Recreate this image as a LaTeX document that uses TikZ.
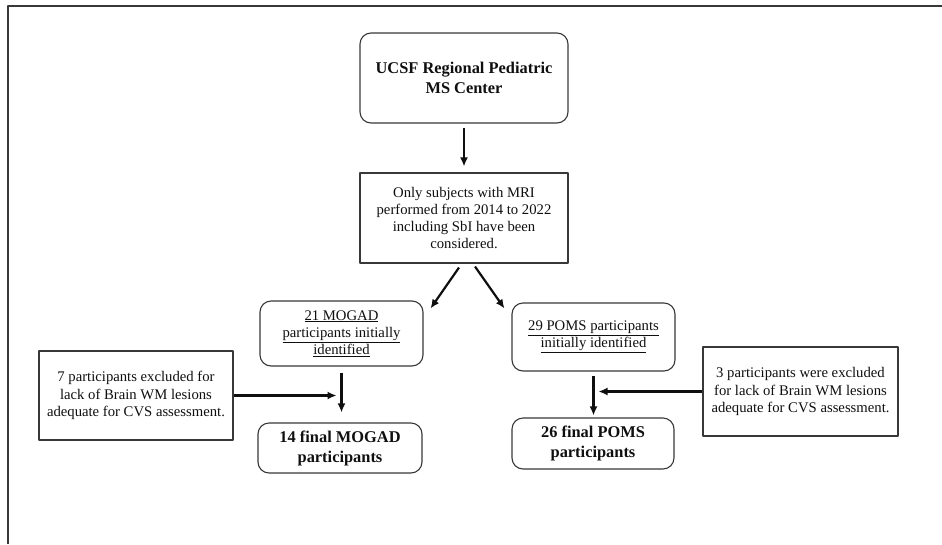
\documentclass[tikz,border=0pt]{standalone}
\usepackage{fontspec}
\setmainfont{Liberation Serif}
\usetikzlibrary{arrows.meta}
\definecolor{ChartInk}{gray}{0.06}
\definecolor{ChartLine}{gray}{0.22}
\tikzset{
    chart/diagram/.style={
        x=1pt, y=-1pt,
        text=ChartInk,
        line join=round
    },
    chart/box/.style={
        draw=ChartLine, line width=1.1pt, align=center, inner sep=0pt,
        font=\fontsize{14.7}{17.3}\selectfont
    },
    chart/rounded/.style={chart/box, rounded corners=11pt},
    chart/bold/.style={font=\fontsize{16.4}{20}\selectfont\bfseries},
    chart/flow/.style={
        draw=ChartInk, line width=2.2pt,
        -{Latex[length=9pt, width=8pt]}
    },
    chart/frame/.style={draw=ChartLine, line width=1.6pt}
}
\begin{document}
\begin{tikzpicture}[chart/diagram]
    \useasboundingbox (0,0) rectangle (942,544);
    \draw[chart/frame] (8,544) -- (8,6) -- (942,6);

    \node[chart/rounded, chart/bold, minimum width=208pt, minimum height=90pt]
        (ucsf) at (464,78) {UCSF Regional Pediatric\\MS Center};
    \node[chart/box, minimum width=208pt, minimum height=90pt]
        (subjects) at (464,218)
        {Only subjects with MRI\\performed from 2014 to 2022\\including SbI have been\\considered.};
    \node[chart/rounded, minimum width=163pt, minimum height=65pt]
        (mogadInit) at (341.5,333.5)
        {\underline{21 MOGAD}\\\underline{participants initially}\\\underline{identified}};
    \node[chart/rounded, minimum width=163pt, minimum height=68pt]
        (pomsInit) at (593.5,337)
        {\underline{29 POMS participants}\\\underline{initially identified}};
    \node[chart/box, minimum width=194pt, minimum height=89pt]
        (mogadExcl) at (136,395.5)
        {7 participants excluded for\\lack of Brain WM lesions\\adequate for CVS assessment.};
    \node[chart/box, minimum width=195pt, minimum height=89pt]
        (pomsExcl) at (800.5,391.5)
        {3 participants were excluded\\for lack of Brain WM lesions\\adequate for CVS assessment.};
    \node[chart/rounded, chart/bold, minimum width=164pt, minimum height=50pt]
        (mogadFinal) at (340,448) {14 final MOGAD\\participants};
    \node[chart/rounded, chart/bold, minimum width=162pt, minimum height=51pt]
        (pomsFinal) at (593,443.5) {26 final POMS\\participants};

    \coordinate (mogadJoin) at (mogadInit.south |- mogadExcl.east);
    \coordinate (pomsJoin) at (pomsInit.south |- pomsExcl.west);

    \draw[chart/flow, shorten <=4pt, shorten >=6pt] (ucsf) -- (subjects);
    \draw[chart/flow] ([xshift=-5pt,yshift=-4pt]subjects.south)
        -- ([xshift=7pt,yshift=-8pt]mogadInit.north east);
    \draw[chart/flow] ([xshift=11pt,yshift=-3pt]subjects.south)
        -- ([xshift=-7pt,yshift=-6pt]pomsInit.north west);
    \draw[chart/flow, shorten <=6pt, shorten >=10pt]
        (mogadInit.south) -- (mogadInit.south |- mogadFinal.north);
    \draw[chart/flow, shorten <=4pt, shorten >=2pt]
        (pomsInit.south) -- (pomsInit.south |- pomsFinal.north);
    \draw[chart/flow] (mogadExcl.east) -- ([xshift=-5pt]mogadJoin);
    \draw[chart/flow] (pomsExcl.west) -- ([xshift=5pt]pomsJoin);
\end{tikzpicture}
\end{document}
